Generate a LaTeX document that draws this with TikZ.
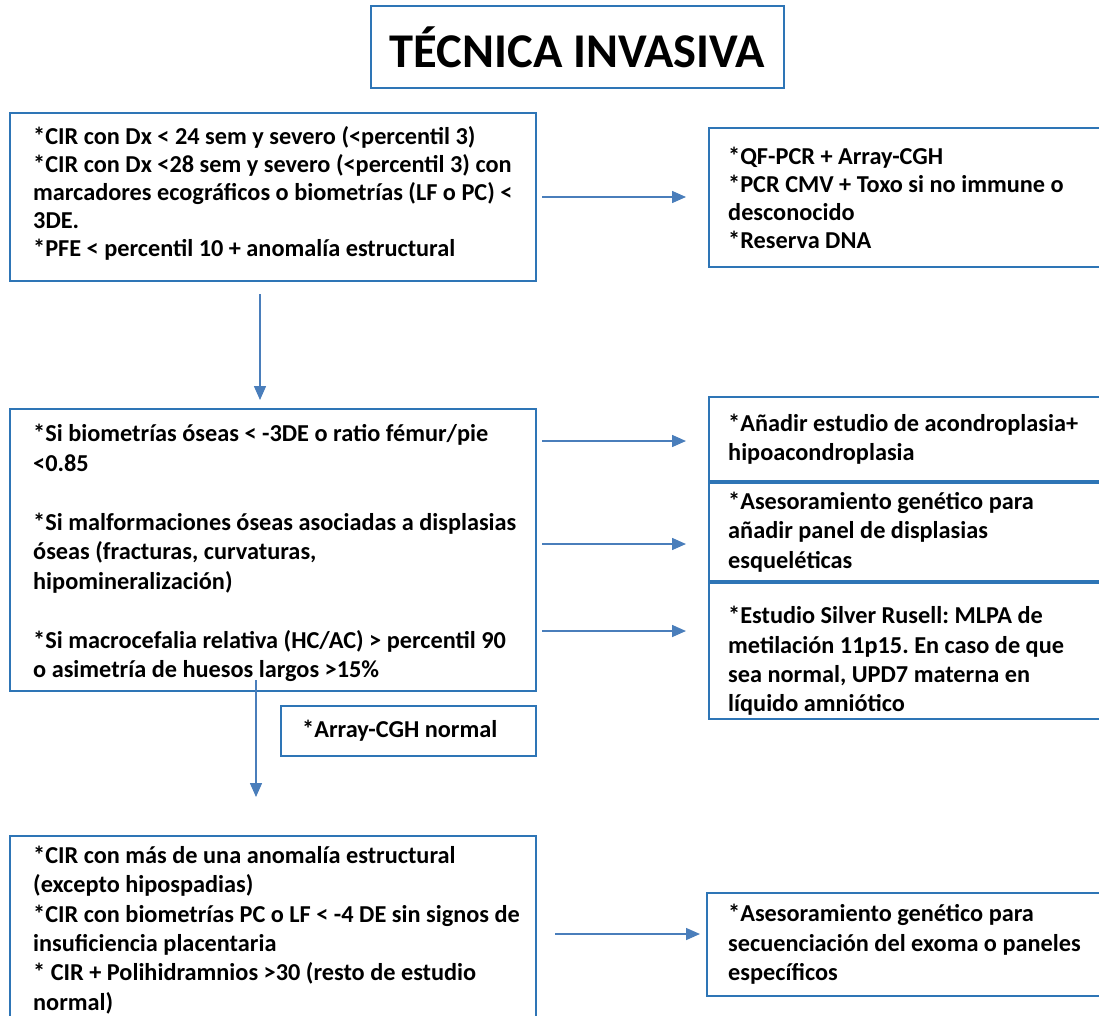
\documentclass[tikz,border=0pt]{standalone}
\usepackage{fontspec}
\setmainfont{Carlito}
\usetikzlibrary{arrows.meta,calc}
\definecolor{boxblue}{HTML}{2E75B6}
\definecolor{arrblue}{HTML}{4A7EBB}
\begin{document}
\frenchspacing
\begin{tikzpicture}[x=1pt,y=-1pt,
  box/.style={draw=boxblue, line width=2pt, rectangle, anchor=north west, inner sep=0pt},
  txt/.style={align=left, inner sep=0pt, font=\fontsize{24.3}{29.3}\selectfont\bfseries},
  txtb/.style={align=left, inner sep=0pt, font=\fontsize{24.3}{28}\selectfont\bfseries},
  txtc/.style={align=left, inner sep=0pt, font=\fontsize{24.3}{29.5}\selectfont\bfseries},
  arr/.style={draw=arrblue, line width=1.5pt, -{Triangle[length=14pt,width=12pt]}}]
\useasboundingbox (0,0) rectangle (1099,1015);

% title
\node[box, minimum width=413, minimum height=82, font=\fontsize{48.5}{56}\selectfont\bfseries] (title) at (370,5) {TÉCNICA INVASIVA};

% boxes
\node[box, minimum width=526, minimum height=168] (b1) at (9,112) {};
\node[box, minimum width=394, minimum height=139] (b2) at (708,127) {};
\node[box, minimum width=526, minimum height=282] (b3) at (9,408) {};
\node[box, minimum width=394, minimum height=84] (b4a) at (708,396) {};
\node[box, minimum width=394, minimum height=98] (b4b) at (708,482) {};
\node[box, minimum width=394, minimum height=136] (b4c) at (708,582) {};
\node[box, minimum width=255, minimum height=50] (bA) at (280,705) {};
\node[box, minimum width=526, minimum height=190] (b5) at (9,835) {};
\node[box, minimum width=396, minimum height=103] (b6) at (706,892) {};

% texts
\node[txtb, anchor=west] (t1) at ($(b1.west)+(24,-4)$) {*CIR con Dx < 24 sem y severo (<percentil 3)\\
*CIR con Dx <28 sem y severo (<percentil 3) con\\
marcadores ecográficos o biometrías (LF o PC) <\\
3DE.\\
*PFE < percentil 10 + anomalía estructural};

\node[txtb, anchor=west] (t2) at ($(b2.west)+(20,0)$) {*QF-PCR + Array-CGH\\
*PCR CMV + Toxo si no immune o\\
desconocido\\
*Reserva DNA};

\node[txtc, anchor=west] (t3) at ($(b3.west)+(24,3)$) {*Si biometrías óseas < -3DE o ratio fémur/pie\\
<0.85\\
\mbox{}\\
*Si malformaciones óseas asociadas a displasias\\
óseas (fracturas, curvaturas,\\
hipomineralización)\\
\mbox{}\\
*Si macrocefalia relativa (HC/AC) > percentil 90\\
o asimetría de huesos largos >15\%};

\node[txt, anchor=west] (t4a) at ($(b4a.west)+(20,0)$) {*Añadir estudio de acondroplasia+\\
hipoacondroplasia};

\node[txt, anchor=west] (t4b) at ($(b4b.west)+(20,0)$) {*Asesoramiento genético para\\
añadir panel de displasias\\
esqueléticas};

\node[txt, anchor=west] (t4c) at ($(b4c.west)+(20,10)$) {*Estudio Silver Rusell: MLPA de\\
metilación 11p15. En caso de que\\
sea normal, UPD7 materna en\\
líquido amniótico};

\node[txt, anchor=west] (tA) at ($(bA.west)+(22,0)$) {*Array-CGH normal};

\node[txt, anchor=north west] (t5) at ($(b5.north west)+(24,11)$) {*CIR con más de una anomalía estructural\\
(excepto hipospadias)\\
*CIR con biometrías PC o LF < -4 DE sin signos de\\
insuficiencia placentaria\\
* CIR + Polihidramnios >30 (resto de estudio\\
normal)};

\node[txt, anchor=west] (t6) at ($(b6.west)+(22,0)$) {*Asesoramiento genético para\\
secuenciación del exoma o paneles\\
específicos};

% connectors
\draw[arr] ($(b1.east)+(5,0)$) -- ($(b1.east -| b2.west)+(-22,0)$);
\draw[arr] ($(b1.south west)+(251,12)$) -- ($(b3.north west)+(251,-8)$);
\draw[arr] ($(b3.east)+(5,-109)$) -- ($(b3.east -| b4a.west)+(-22,-109)$);
\draw[arr] ($(b3.east)+(5,-6)$) -- ($(b3.east -| b4b.west)+(-22,-6)$);
\draw[arr] ($(b3.east)+(5,81)$) -- ($(b3.east -| b4c.west)+(-22,81)$);
\draw[arr] ($(b3.south west)+(247,-12)$) -- ($(b5.north west)+(247,-38)$);
\draw[arr] ($(b5.north east)+(18,99)$) -- ($(b6.north west)+(-6,42)$);
\end{tikzpicture}
\end{document}
